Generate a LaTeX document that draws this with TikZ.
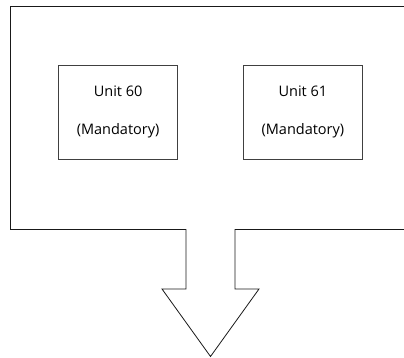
\documentclass[tikz,border=0pt]{standalone}
\usepackage{fontspec}
\setmainfont{Open Sans}
\usetikzlibrary{matrix}

\begin{document}
\begin{tikzpicture}[x=1pt,y=-1pt,line width=0.8pt,
    unitbox/.style={draw=black!75, minimum width=119pt, minimum height=94pt,
        align=center, font=\fontsize{14.5}{17}\selectfont, inner sep=0pt}]
\useasboundingbox (0,0) rectangle (404,358);

\matrix[column sep=65pt] (mat) at (210.5,112.2)
{
    \node[unitbox] (unit60) {Unit 60\\[21pt](Mandatory)}; &
    \node[unitbox] (unit61) {Unit 61\\[21pt](Mandatory)}; \\
};

\begin{scope}
\clip (0,0) rectangle (404,358);
\draw[black!90] (420,6.5) -- (10.5,6.5) -- (10.5,229.5) -- (186,229.5) -- (186,289)
    -- (162,289) -- (210.5,356.5) -- (259,289) -- (235,289) -- (235,229.5) -- (420,229.5);
\end{scope}

\end{tikzpicture}
\end{document}
